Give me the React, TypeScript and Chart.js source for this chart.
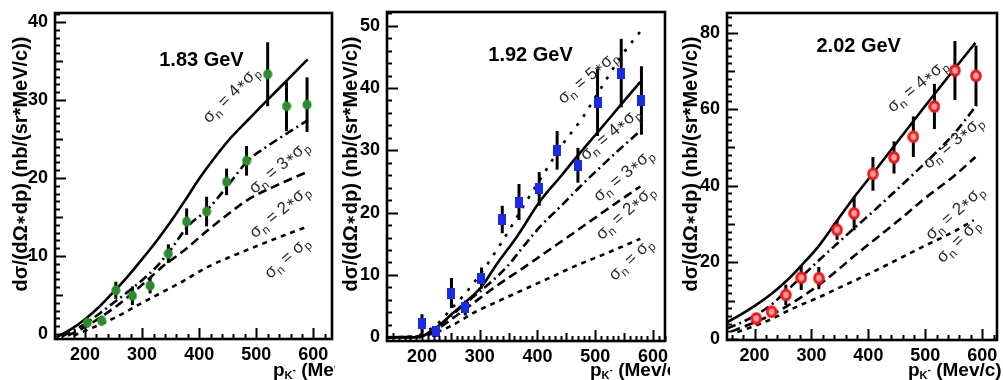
import React, { useEffect, useRef } from 'react';
import { Chart, registerables } from 'chart.js';

Chart.register(...registerables);

const FONT = '"Liberation Sans", Arial, Helvetica, sans-serif';

// ---------------- shared axis ticks ----------------
const xTickValues = [200, 300, 400, 500, 600];

// ---------------- 1.83 GeV ----------------
const yTicks183 = [0, 10, 20, 30, 40];
const p183 = [204, 229, 254, 283, 314, 346, 378, 413, 448, 483, 520, 553, 589];
const xs183 = [1.45, 1.7, 5.6, 4.9, 6.2, 10.3, 14.4, 15.7, 19.5, 22.2, 33.3, 29.2, 29.4];
const err183 = [0.6, 0.6, 1.1, 1.2, 1.0, 1.2, 1.7, 1.9, 1.7, 1.9, 4.1, 3.2, 3.5];

const c183_4x = [150, 175, 200, 225, 250, 275, 300, 325, 350, 375, 400, 425, 450, 485, 525, 555, 590];
const c183_4y = [-0.4, 0.6, 1.9, 3.5, 5.4, 7.4, 9.6, 11.9, 14.4, 17.1, 19.9, 22.4, 24.7, 27.4, 30.4, 32.6, 35.2];
const c183_3x = [160, 200, 225, 250, 275, 300, 325, 350, 380, 415, 450, 485, 520, 560, 590];
const c183_3y = [-0.3, 1.3, 2.6, 4.0, 5.4, 6.9, 8.6, 10.8, 13.8, 16.0, 19.0, 22.2, 24.1, 26.0, 27.4];
const c183_2x = [170, 200, 250, 300, 340, 370, 415, 455, 485, 540, 590];
const c183_2y = [-0.2, 0.9, 3.3, 6.3, 8.9, 10.5, 13.3, 15.6, 17.2, 19.2, 20.8];
const c183_1x = [180, 200, 250, 300, 370, 415, 485, 540, 590];
const c183_1y = [-0.2, 0.4, 2.0, 4.0, 6.7, 8.6, 10.8, 12.4, 13.8];

// ---------------- 1.92 GeV ----------------
const yTicks192 = [0, 10, 20, 30, 40, 50];
const p192 = [200, 224, 251, 275, 303, 339, 368, 403, 434, 470, 504, 545, 580];
const xs192 = [2.2, 0.9, 7.1, 4.7, 9.5, 18.9, 21.7, 23.8, 30.0, 27.6, 37.7, 42.4, 38.0];
const err192 = [1.5, 0.5, 2.4, 1.2, 1.7, 2.2, 2.9, 2.7, 3.1, 2.8, 5.4, 5.5, 5.5];

const c192_5x = [140, 190, 200, 225, 250, 270, 300, 335, 384, 416, 440, 480, 500, 548, 580];
const c192_5y = [0, 0, 0.6, 2.0, 4.5, 6.5, 10.0, 14.8, 22.3, 27.0, 30.5, 35.5, 38.5, 45.5, 49.3];
const c192_4x = [140, 195, 210, 231, 250, 275, 303, 330, 364, 404, 440, 470, 508, 546, 578];
const c192_4y = [0, 0, 0.6, 2.0, 3.6, 5.6, 8.1, 11.8, 16.1, 21.8, 25.8, 29.2, 33.3, 37.5, 41.0];
const c192_3x = [140, 195, 215, 231, 260, 289, 320, 347, 375, 404, 440, 474, 510, 545, 578];
const c192_3y = [0, 0, 1.0, 2.0, 4.2, 6.5, 8.9, 11.3, 14.5, 17.7, 21.0, 24.2, 27.4, 30.4, 33.1];
const c192_2x = [140, 200, 231, 260, 289, 330, 375, 420, 462, 520, 578];
const c192_2y = [0, 0.2, 1.6, 3.5, 5.5, 8.3, 11.1, 14.0, 16.7, 20.5, 24.2];
const c192_1x = [140, 205, 231, 260, 289, 330, 375, 420, 462, 520, 578];
const c192_1y = [0, 0.3, 1.0, 2.3, 3.9, 5.7, 7.6, 9.5, 11.3, 13.5, 15.8];

// ---------------- 2.02 GeV ----------------
const yTicks202 = [0, 20, 40, 60, 80];
const p202 = [203, 230, 255, 282, 313, 345, 375, 408, 445, 479, 516, 552, 589];
const xs202 = [5.4, 7.1, 11.5, 16.0, 15.9, 28.5, 32.8, 43.1, 47.4, 52.8, 60.7, 70.1, 68.7];
const err202 = [1.3, 1.1, 2.7, 3.2, 2.9, 2.6, 4.4, 4.4, 4.2, 5.3, 5.9, 7.7, 7.9];

const c202_4x = [151, 175, 203, 230, 255, 283, 312, 346, 378, 410, 450, 500, 550, 588];
const c202_4y = [4.3, 6.3, 8.9, 11.8, 15.0, 19.3, 24.1, 31.1, 37.6, 43.6, 51.3, 60.9, 70.3, 77.3];
const c202_3x = [152, 180, 203, 230, 255, 283, 315, 346, 378, 410, 450, 500, 550, 590];
const c202_3y = [2.8, 4.5, 6.3, 9.0, 12.4, 16.3, 20.8, 25.0, 29.3, 33.5, 39.0, 46.0, 53.5, 61.0];
const c202_2x = [160, 203, 230, 255, 283, 315, 346, 381, 420, 460, 500, 550, 588];
const c202_2y = [2.0, 4.5, 6.3, 8.4, 11.0, 14.3, 18.0, 22.4, 27.0, 31.8, 36.8, 42.5, 47.5];
const c202_1x = [170, 203, 230, 255, 283, 315, 346, 381, 420, 460, 500, 550, 585];
const c202_1y = [1.8, 3.6, 5.2, 7.1, 9.0, 11.0, 13.2, 15.6, 18.4, 21.4, 24.4, 28.0, 31.0];

// ---------------- texts ----------------
const titles = ['1.83 GeV', '1.92 GeV', '2.02 GeV'];
const yTitleParts = ['dσ/(dΩ', '∗', 'dp) (nb/(sr*MeV/c))'];
const xTitleParts = ['p', 'K', '-', ' (Mev/c)'];
const coefs183 = ['4', '3', '2', ''];
const coefs192 = ['5', '4', '3', '2', ''];
const coefs202 = ['4', '3', '2', ''];

// ---------------- styles ----------------
const SOLID: number[] = [];
const DASHDOT = [9, 4, 2, 4];
const DASHED = [9, 5];
const SHORTDASH = [5, 5];
const DOTTED = [3, 8];

type Curve = { xs: number[]; ys: number[]; dash: number[] };
type Lab = { coef: string; x: number; y: number; angle: number };
type PanelCfg = {
  left: number; width: number;
  frame: { l: number; r: number; t: number; b: number };
  xRange: [number, number]; yRange: [number, number];
  yTicks: number[];
  xMinor: number; xMedium: number; yMinor: number; yMedium: number;
  curves: Curve[];
  px: number[]; py: number[]; perr: number[];
  marker: 'green' | 'blue' | 'red';
  labels: Lab[];
  title: string; titlePos: [number, number];
  yTitleX: number; xTitleX: number;
};

const PANELS: PanelCfg[] = [
  {
    left: 0, width: 400,
    frame: { l: 55, r: 332, t: 13, b: 339 },
    xRange: [147.4, 632.7], yRange: [-0.64, 41.15],
    yTicks: yTicks183, xMinor: 20, xMedium: 0, yMinor: 1, yMedium: 5,
    curves: [
      { xs: c183_4x, ys: c183_4y, dash: SOLID },
      { xs: c183_3x, ys: c183_3y, dash: DASHDOT },
      { xs: c183_2x, ys: c183_2y, dash: DASHED },
      { xs: c183_1x, ys: c183_1y, dash: SHORTDASH },
    ],
    px: p183, py: xs183, perr: err183, marker: 'green',
    labels: [
      { coef: coefs183[0], x: 457, y: 30.6, angle: 45 },
      { coef: coefs183[1], x: 541, y: 21.3, angle: 40 },
      { coef: coefs183[2], x: 542, y: 15.6, angle: 40 },
      { coef: coefs183[3], x: 555, y: 9.7, angle: 42 },
    ],
    title: titles[0], titlePos: [404, 35.1],
    yTitleX: 20, xTitleX: 273,
  },
  {
    left: 335, width: 400,
    frame: { l: 52, r: 330, t: 12, b: 341 },
    xRange: [139.4, 620.8], yRange: [-0.6, 52.2],
    yTicks: yTicks192, xMinor: 10, xMedium: 50, yMinor: 2, yMedium: 0,
    curves: [
      { xs: c192_5x, ys: c192_5y, dash: DOTTED },
      { xs: c192_4x, ys: c192_4y, dash: SOLID },
      { xs: c192_3x, ys: c192_3y, dash: DASHDOT },
      { xs: c192_2x, ys: c192_2y, dash: DASHED },
      { xs: c192_1x, ys: c192_1y, dash: SHORTDASH },
    ],
    px: p192, py: xs192, perr: err192, marker: 'blue',
    labels: [
      { coef: coefs192[0], x: 488, y: 41.6, angle: 40 },
      { coef: coefs192[1], x: 527, y: 32.5, angle: 40 },
      { coef: coefs192[2], x: 550, y: 25.9, angle: 40 },
      { coef: coefs192[3], x: 553, y: 19.9, angle: 42 },
      { coef: coefs192[4], x: 563, y: 12.4, angle: 43 },
    ],
    title: titles[1], titlePos: [388, 45.3],
    yTitleX: 15, xTitleX: 255,
  },
  {
    left: 670, width: 333,
    frame: { l: 57, r: 332, t: 13, b: 340 },
    xRange: [151.7, 625.9], yRange: [-0.26, 85.1],
    yTicks: yTicks202, xMinor: 20, xMedium: 0, yMinor: 2, yMedium: 10,
    curves: [
      { xs: c202_4x, ys: c202_4y, dash: SOLID },
      { xs: c202_3x, ys: c202_3y, dash: DASHDOT },
      { xs: c202_2x, ys: c202_2y, dash: DASHED },
      { xs: c202_1x, ys: c202_1y, dash: SHORTDASH },
    ],
    px: p202, py: xs202, perr: err202, marker: 'red',
    labels: [
      { coef: coefs202[0], x: 487, y: 65.9, angle: 40 },
      { coef: coefs202[1], x: 550, y: 51.1, angle: 40 },
      { coef: coefs202[2], x: 553, y: 32.8, angle: 42 },
      { coef: coefs202[3], x: 559, y: 25.4, angle: 45 },
    ],
    title: titles[2], titlePos: [383, 76.3],
    yTitleX: 20, xTitleX: 238,
  },
];

function makeMarker(kind: 'green' | 'blue' | 'red'): HTMLCanvasElement {
  const c = document.createElement('canvas');
  if (kind === 'blue') {
    c.width = 8; c.height = 11;
    const g = c.getContext('2d')!;
    g.fillStyle = '#1a2be6';
    g.fillRect(0, 0, 8, 11);
  } else if (kind === 'green') {
    c.width = 10; c.height = 11;
    const g = c.getContext('2d')!;
    g.fillStyle = '#2a8c2a';
    g.beginPath(); g.ellipse(5, 5.5, 4.5, 5, 0, 0, Math.PI * 2); g.fill();
  } else {
    c.width = 12; c.height = 13;
    const g = c.getContext('2d')!;
    g.fillStyle = '#ffa0a0';
    g.strokeStyle = '#ee1a1a';
    g.lineWidth = 3;
    g.beginPath(); g.ellipse(6, 6.5, 4.3, 4.8, 0, 0, Math.PI * 2); g.fill(); g.stroke();
  }
  return c;
}

type Part = { t: string; f: string; dy: number };

function drawParts(ctx: CanvasRenderingContext2D, parts: Part[], cx: number, cy: number, angle: number, color: string) {
  ctx.save();
  ctx.translate(cx, cy);
  ctx.rotate((-angle * Math.PI) / 180);
  let total = 0;
  const widths = parts.map((p) => { ctx.font = p.f; const w = ctx.measureText(p.t).width; total += w; return w; });
  let x = -total / 2;
  ctx.fillStyle = color;
  ctx.textBaseline = 'alphabetic';
  ctx.textAlign = 'left';
  parts.forEach((p, i) => {
    ctx.font = p.f;
    ctx.fillText(p.t, x, p.dy);
    x += widths[i];
  });
  ctx.restore();
}

function drawSigmaLabel(ctx: CanvasRenderingContext2D, coef: string, cx: number, cy: number, angle: number) {
  const big = `17px ${FONT}`;
  const small = `12px ${FONT}`;
  const star = `11px "DejaVu Sans", ${FONT}`;
  const parts: Part[] = [
    { t: 'σ', f: big, dy: 4 },
    { t: 'n', f: small, dy: 8 },
    { t: ' = ' + coef, f: big, dy: 4 },
  ];
  if (coef) parts.push({ t: '∗', f: star, dy: 2 });
  parts.push({ t: 'σ', f: big, dy: 4 });
  parts.push({ t: 'p', f: small, dy: 8 });
  drawParts(ctx, parts, cx, cy, angle, '#2a2a2a');
}

function Panel({ cfg }: { cfg: PanelCfg }) {
  const ref = useRef<HTMLCanvasElement | null>(null);
  useEffect(() => {
    const canvas = ref.current!;
    const marker = makeMarker(cfg.marker);
    const H = 380;
    const datasets: any[] = [
      {
        label: 'data',
        data: cfg.px.map((x, i) => ({ x, y: cfg.py[i] })),
        showLine: false,
        pointStyle: marker,
        pointRadius: 6,
        pointHoverRadius: 6,
        borderWidth: 0,
        order: 0,
      },
      ...cfg.curves.map((c, k) => ({
        label: 'curve' + k,
        data: c.xs.map((x, i) => ({ x, y: c.ys[i] })),
        borderColor: '#000',
        borderWidth: 2.6,
        borderDash: c.dash,
        pointRadius: 0,
        fill: false,
        cubicInterpolationMode: 'monotone',
        order: 1,
      })),
    ];

    const decor = {
      id: 'decor',
      beforeDatasetDraw(chart: any, args: any) {
        if (args.index !== 0) return;
        const ctx = chart.ctx as CanvasRenderingContext2D;
        const sx = chart.scales.x, sy = chart.scales.y;
        ctx.save();
        ctx.strokeStyle = '#000';
        ctx.lineWidth = 3;
        cfg.px.forEach((x, i) => {
          const X = sx.getPixelForValue(x);
          ctx.beginPath();
          ctx.moveTo(X, sy.getPixelForValue(cfg.py[i] - cfg.perr[i]));
          ctx.lineTo(X, sy.getPixelForValue(cfg.py[i] + cfg.perr[i]));
          ctx.stroke();
        });
        ctx.restore();
      },
      afterDraw(chart: any) {
        const ctx = chart.ctx as CanvasRenderingContext2D;
        const sx = chart.scales.x, sy = chart.scales.y;
        const ca = chart.chartArea;
        // curve labels
        cfg.labels.forEach((l) => drawSigmaLabel(ctx, l.coef, sx.getPixelForValue(l.x), sy.getPixelForValue(l.y), l.angle));
        ctx.save();
        // panel title
        ctx.fillStyle = '#000';
        ctx.font = `bold 20px ${FONT}`;
        ctx.textAlign = 'center';
        ctx.textBaseline = 'middle';
        ctx.fillText(cfg.title, sx.getPixelForValue(cfg.titlePos[0]), sy.getPixelForValue(cfg.titlePos[1]));
        // y title
        const yb = `bold 20px ${FONT}`;
        drawParts(ctx, [
          { t: yTitleParts[0], f: yb, dy: 7 },
          { t: yTitleParts[1], f: `bold 13px "DejaVu Sans", ${FONT}`, dy: 5 },
          { t: yTitleParts[2], f: yb, dy: 7 },
        ], cfg.yTitleX, 164, 90, '#000');
        // x title: p_{K-} (Mev/c)
        ctx.textAlign = 'left';
        ctx.textBaseline = 'alphabetic';
        let x = cfg.xTitleX;
        const base = 376;
        ctx.font = `bold 19px ${FONT}`;
        ctx.fillText(xTitleParts[0], x, base);
        x += ctx.measureText(xTitleParts[0]).width;
        ctx.font = `bold 11px ${FONT}`;
        ctx.fillText(xTitleParts[1], x, base + 3);
        x += ctx.measureText(xTitleParts[1]).width;
        ctx.font = `bold 10px ${FONT}`;
        ctx.fillText(xTitleParts[2], x, base - 3);
        x += ctx.measureText(xTitleParts[2]).width;
        ctx.font = `bold 19px ${FONT}`;
        ctx.fillText(xTitleParts[3], x, base);
        // ticks
        ctx.strokeStyle = '#000';
        ctx.lineWidth = 2;
        const xMajor = 100;
        const xStart = Math.ceil(cfg.xRange[0] / cfg.xMinor);
        const xEnd = Math.floor(cfg.xRange[1] / cfg.xMinor);
        for (let k = xStart; k <= xEnd; k++) {
          const v = k * cfg.xMinor;
          const len = v % xMajor === 0 ? 11 : cfg.xMedium && v % cfg.xMedium === 0 ? 8 : 5;
          const X = Math.round(sx.getPixelForValue(v)) + 0.5;
          ctx.beginPath(); ctx.moveTo(X, ca.bottom); ctx.lineTo(X, ca.bottom - len); ctx.stroke();
        }
        const yMajor = cfg.yTicks[1] - cfg.yTicks[0];
        const yStart = Math.ceil(cfg.yRange[0] / cfg.yMinor);
        const yEnd = Math.floor(cfg.yRange[1] / cfg.yMinor);
        for (let k = yStart; k <= yEnd; k++) {
          const v = k * cfg.yMinor;
          const len = v % yMajor === 0 ? 11 : cfg.yMedium && v % cfg.yMedium === 0 ? 8 : 5;
          const Y = Math.round(sy.getPixelForValue(v)) + 0.5;
          ctx.beginPath(); ctx.moveTo(ca.left, Y); ctx.lineTo(ca.left + len, Y); ctx.stroke();
        }
        // frame
        ctx.lineWidth = 2.6;
        ctx.strokeRect(ca.left, ca.top, ca.right - ca.left, ca.bottom - ca.top);
        ctx.restore();
      },
    };

    const tickFont = { family: FONT, size: 18, weight: 'bold' as const };
    const chart = new Chart(canvas, {
      type: 'line',
      data: { datasets },
      options: {
        animation: false,
        responsive: false,
        devicePixelRatio: 1,
        events: [],
        layout: { padding: { left: 0, top: cfg.frame.t, right: cfg.width - cfg.frame.r, bottom: 0 } },
        plugins: { legend: { display: false }, tooltip: { enabled: false }, title: { display: false } },
        scales: {
          x: {
            type: 'linear',
            min: cfg.xRange[0],
            max: cfg.xRange[1],
            afterBuildTicks: (s: any) => { s.ticks = xTickValues.map((v) => ({ value: v })); },
            afterFit: (s: any) => { s.height = H - cfg.frame.b; s.paddingLeft = 0; s.paddingRight = 0; },
            grid: { display: false, drawTicks: false },
            border: { display: false },
            ticks: { font: tickFont, color: '#000', padding: 5, autoSkip: false, maxRotation: 0, callback: (v: any) => String(v) },
          },
          y: {
            type: 'linear',
            min: cfg.yRange[0],
            max: cfg.yRange[1],
            afterBuildTicks: (s: any) => { s.ticks = cfg.yTicks.map((v) => ({ value: v })); },
            afterFit: (s: any) => { s.width = cfg.frame.l; s.paddingTop = 0; s.paddingBottom = 0; },
            grid: { display: false, drawTicks: false },
            border: { display: false },
            ticks: { font: tickFont, color: '#000', padding: 7, autoSkip: false, callback: (v: any) => String(v) },
          },
        },
      } as any,
      plugins: [decor],
    });
    return () => chart.destroy();
  }, [cfg]);
  return (
    <canvas
      ref={ref}
      width={cfg.width}
      height={380}
      style={{ position: 'absolute', left: cfg.left, top: 0, width: cfg.width, height: 380, background: '#fff', display: 'block' }}
    />
  );
}

export default function App() {
  return (
    <div style={{ position: 'fixed', left: 0, top: 0, width: 1003, height: 380, background: '#fff', overflow: 'hidden' }}>
      {PANELS.map((p, i) => (
        <Panel key={i} cfg={p} />
      ))}
    </div>
  );
}
